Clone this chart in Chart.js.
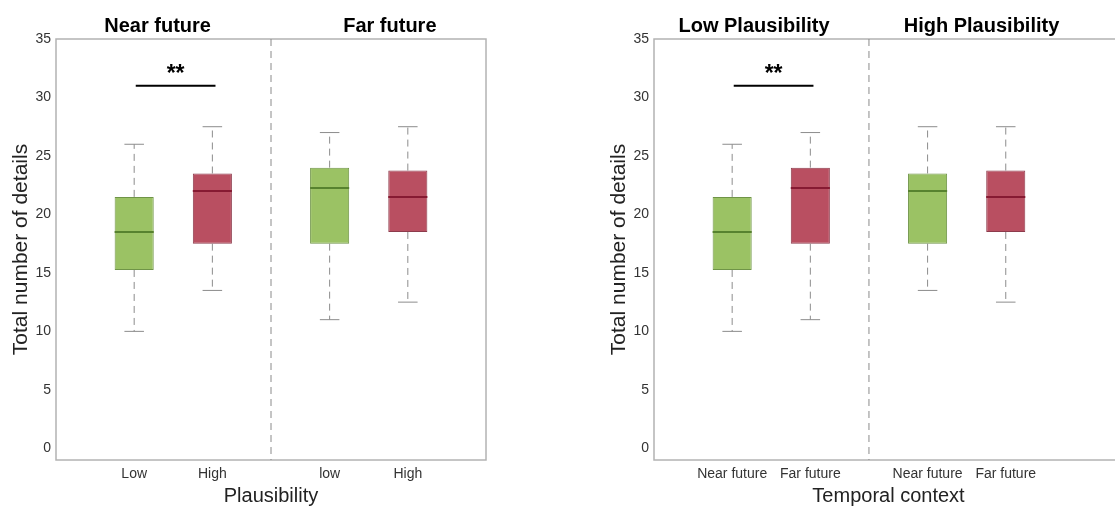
<!DOCTYPE html>
<html>
<head>
<meta charset="utf-8">
<script src="https://cdn.jsdelivr.net/npm/chart.js@4.4.1/dist/chart.umd.min.js"></script>
<style>
html,body{margin:0;padding:0;background:#fff;width:1115px;height:508px;overflow:hidden;position:relative;}
#left{position:absolute;left:0;top:0;}
#right{position:absolute;left:555px;top:0;}
</style>
</head>
<body>
<canvas id="left" width="555" height="508"></canvas>
<canvas id="right" width="580" height="508"></canvas>
<script>
// box positions on the x axis (two groups of two)
const positions = [1, 2, 3.5, 4.5];
const yTicks = [0, 5, 10, 15, 20, 25, 30, 35];

// left panel: grouped by temporal context, coloured by plausibility
const plausLabels = ["Low", "High", "low", "High"];
const plausGroups = ["Near future", "Far future"];
const plausMin = [10, 13.5, 11, 12.5];
const plausQ1 = [15.25, 17.5, 17.5, 18.5];
const plausMedian = [18.5, 22, 22.25, 21.5];
const plausQ3 = [21.5, 23.5, 24, 23.75];
const plausMax = [26, 27.5, 27, 27.5];

// right panel: grouped by plausibility, coloured by temporal context
const tempLabels = ["Near future", "Far future", "Near future", "Far future"];
const tempGroups = ["Low Plausibility", "High Plausibility"];
const tempMin = [10, 11, 13.5, 12.5];
const tempQ1 = [15.25, 17.5, 17.5, 18.5];
const tempMedian = [18.5, 22.25, 22, 21.5];
const tempQ3 = [21.5, 24, 23.5, 23.75];
const tempMax = [26, 27, 27.5, 27.5];

// ** between the first two boxes of each panel
const sigPair = [1.02, 2.04];
const sigLevel = 31;

Chart.defaults.font.family = "'Liberation Sans', Arial, Helvetica, sans-serif";

const GREEN = {fill: "#9bc264", border: "#6f9447", median: "#57822f"};
const RED = {fill: "#b94f61", border: "#8d3b4c", median: "#861a32"};
const boxColors = [GREEN, RED, GREEN, RED];

const boxPlugin = {
  id: "boxExtras",
  afterDatasetsDraw(chart, args, o) {
    const {ctx, chartArea: a, scales: {x, y}} = chart;
    const meta = chart.getDatasetMeta(0);
    ctx.save();

    // frame + divider
    ctx.strokeStyle = "#b3b3b3";
    ctx.lineWidth = 1.5;
    ctx.strokeRect(a.left, a.top, a.right - a.left, a.bottom - a.top);
    const dx = x.getPixelForValue(o.divider);
    ctx.strokeStyle = "#8a8a8a";
    ctx.lineWidth = 1;
    ctx.setLineDash([7, 5]);
    ctx.beginPath();
    ctx.moveTo(dx, a.top);
    ctx.lineTo(dx, a.bottom);
    ctx.stroke();

    // whiskers, caps, medians
    positions.forEach((p, i) => {
      const px = x.getPixelForValue(p);
      const half = x.getPixelForValue(p + 0.125) - px;
      ctx.strokeStyle = "#8c8c8c";
      ctx.lineWidth = 1;
      ctx.setLineDash([7, 5]);
      ctx.beginPath();
      ctx.moveTo(px, y.getPixelForValue(o.q3[i]));
      ctx.lineTo(px, y.getPixelForValue(o.max[i]));
      ctx.moveTo(px, y.getPixelForValue(o.q1[i]));
      ctx.lineTo(px, y.getPixelForValue(o.min[i]));
      ctx.stroke();
      ctx.setLineDash([]);
      ctx.beginPath();
      const yMax = y.getPixelForValue(o.max[i]);
      const yMin = y.getPixelForValue(o.min[i]);
      ctx.moveTo(px - half, yMax); ctx.lineTo(px + half, yMax);
      ctx.moveTo(px - half, yMin); ctx.lineTo(px + half, yMin);
      ctx.stroke();

      const bar = meta.data[i];
      const ym = y.getPixelForValue(o.median[i]);
      ctx.strokeStyle = boxColors[i].median;
      ctx.lineWidth = 2;
      ctx.beginPath();
      ctx.moveTo(bar.x - bar.width / 2, ym);
      ctx.lineTo(bar.x + bar.width / 2, ym);
      ctx.stroke();
    });

    // significance bar
    const sy = y.getPixelForValue(sigLevel);
    ctx.strokeStyle = "#000";
    ctx.lineWidth = 2;
    ctx.beginPath();
    ctx.moveTo(x.getPixelForValue(sigPair[0]), sy);
    ctx.lineTo(x.getPixelForValue(sigPair[1]), sy);
    ctx.stroke();
    ctx.fillStyle = "#000";
    ctx.textAlign = "center";
    ctx.textBaseline = "alphabetic";
    ctx.font = "bold 23px 'Liberation Sans', Arial, sans-serif";
    ctx.fillText("**", x.getPixelForValue((sigPair[0] + sigPair[1]) / 2), sy - 5);

    // group titles
    ctx.font = "bold 20px 'Liberation Sans', Arial, sans-serif";
    o.groups.forEach((g, i) => {
      ctx.fillText(g, x.getPixelForValue(o.groupAt[i]), a.top - 7.5);
    });
    ctx.restore();
  }
};

function makePanel(id, cfg) {
  return new Chart(document.getElementById(id), {
    type: "bar",
    data: {
      datasets: [{
        data: positions.map((p, i) => ({x: p, y: [cfg.q1[i], cfg.q3[i]]})),
        backgroundColor: boxColors.map(c => c.fill),
        borderColor: boxColors.map(c => c.border),
        borderWidth: 1,
        borderSkipped: false,
        categoryPercentage: 1,
        barPercentage: 0.5
      }]
    },
    options: {
      responsive: false,
      animation: false,
      layout: {padding: cfg.padding},
      plugins: {
        legend: {display: false},
        tooltip: {enabled: false},
        boxExtras: cfg
      },
      scales: {
        x: {
          type: "linear",
          min: 0,
          max: cfg.xMax,
          offset: false,
          grid: {display: false, drawTicks: false},
          border: {display: false},
          afterBuildTicks: s => { s.ticks = positions.map(v => ({value: v})); },
          afterFit: s => { s.height = 48; },
          ticks: {
            autoSkip: false,
            maxRotation: 0,
            padding: 6,
            color: "#333",
            font: {size: 14},
            callback: (v, i) => cfg.labels[i]
          },
          title: {
            display: true,
            text: cfg.xTitle,
            color: "#222",
            font: {size: 20},
            padding: {top: 0, bottom: 0}
          }
        },
        y: {
          min: -1,
          max: 35,
          grid: {display: false, drawTicks: false},
          border: {display: false},
          afterBuildTicks: s => { s.ticks = yTicks.map(v => ({value: v})); },
          afterFit: s => { s.width = 56; },
          ticks: {padding: 5, color: "#333", font: {size: 14}},
          title: {
            display: true,
            text: "Total number of details",
            color: "#222",
            font: {size: 21},
            padding: {top: 9, bottom: 0}
          }
        }
      }
    },
    plugins: [boxPlugin]
  });
}

makePanel("left", {
  labels: plausLabels, groups: plausGroups, groupAt: [1.3, 4.27],
  min: plausMin, q1: plausQ1, median: plausMedian, q3: plausQ3, max: plausMax,
  xTitle: "Plausibility", xMax: 5.5, divider: 2.75,
  padding: {left: 0, right: 69, top: 39, bottom: 0}
});

makePanel("right", {
  labels: tempLabels, groups: tempGroups, groupAt: [1.28, 4.19],
  min: tempMin, q1: tempQ1, median: tempMedian, q3: tempQ3, max: tempMax,
  xTitle: "Temporal context", xMax: 6, divider: 2.75,
  padding: {left: 43, right: 12, top: 39, bottom: 0}
});
</script>
</body>
</html>
